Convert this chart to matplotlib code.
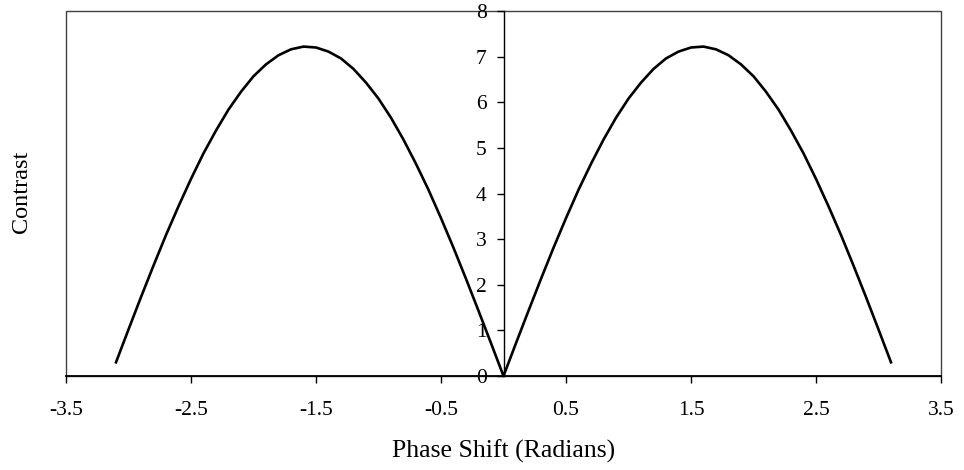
import matplotlib
matplotlib.use("Agg")
import matplotlib.pyplot as plt
from matplotlib.patches import Rectangle

phase = [-3.1, -3.0, -2.9, -2.8, -2.7, -2.6, -2.5, -2.4, -2.3, -2.2, -2.1, -2.0,
         -1.9, -1.8, -1.7, -1.6, -1.5, -1.4, -1.3, -1.2, -1.1, -1.0, -0.9, -0.8,
         -0.7, -0.6, -0.5, -0.4, -0.3, -0.2, -0.1,
         0.0, 0.1, 0.2, 0.3, 0.4, 0.5, 0.6, 0.7, 0.8, 0.9, 1.0, 1.1, 1.2, 1.3,
         1.4, 1.5, 1.6, 1.7, 1.8, 1.9, 2.0, 2.1, 2.2, 2.3, 2.4, 2.5, 2.6, 2.7,
         2.8, 2.9, 3.0, 3.1]
contrast = [0.30, 1.02, 1.73, 2.42, 3.09, 3.72, 4.32, 4.88, 5.38, 5.84, 6.23, 6.57,
            6.83, 7.03, 7.16, 7.22, 7.20, 7.11, 6.96, 6.73, 6.43, 6.08, 5.66, 5.18,
            4.65, 4.08, 3.46, 2.81, 2.13, 1.43, 0.72,
            0.0, 0.72, 1.43, 2.13, 2.81, 3.46, 4.08, 4.65, 5.18, 5.66, 6.08, 6.43,
            6.73, 6.96, 7.11, 7.20, 7.22, 7.16, 7.03, 6.83, 6.57, 6.23, 5.84, 5.38,
            4.88, 4.32, 3.72, 3.09, 2.42, 1.73, 1.02, 0.30]
x_ticks = [-3.5, -2.5, -1.5, -0.5, 0.5, 1.5, 2.5, 3.5]
x_ticklabels = ["-3.5", "-2.5", "-1.5", "-0.5", "0.5", "1.5", "2.5", "3.5"]
y_ticks = [0, 1, 2, 3, 4, 5, 6, 7, 8]

plt.rcParams['font.family'] = ['Liberation Serif', 'DejaVu Serif']

fig = plt.figure(figsize=(9.64, 4.70), dpi=100)
ax = fig.add_axes([66/964, 1-376/470, (941-66)/964, (376-11)/470])

ax.plot(phase, contrast, color='black', lw=1.9, solid_joinstyle='round', clip_on=False, zorder=3)

ax.set_xlim(-3.5, 3.5)
ax.set_ylim(0, 8)

# frame
for s in ['top', 'right']:
    ax.spines[s].set_visible(False)
ax.add_patch(Rectangle((0, 0), 1, 1, transform=ax.transAxes, fill=False,
                       edgecolor='#404040', lw=1.0, clip_on=False, zorder=1))
ax.spines['left'].set_position(('data', 0))
ax.spines['left'].set_color('black')
ax.spines['left'].set_linewidth(1.0)
ax.spines['bottom'].set_color('black')
ax.spines['bottom'].set_linewidth(1.3)
ax.spines['bottom'].set_zorder(2)

ax.set_xticks(x_ticks)
ax.set_xticklabels(x_ticklabels)
ax.set_yticks(y_ticks)
ax.tick_params(axis='x', direction='out', length=5, width=1.0, pad=13, labelsize=15.5)
ax.tick_params(axis='y', direction='out', length=5, width=1.0, pad=7, labelsize=15.5)

fig.text(22/964, 1-192/470, 'Contrast', rotation=90, ha='center', va='center', fontsize=17.5)
fig.text(504/964, 1-451/470, 'Phase Shift (Radians)', ha='center', va='center', fontsize=18.5)

fig.savefig('out.png', dpi=100)
